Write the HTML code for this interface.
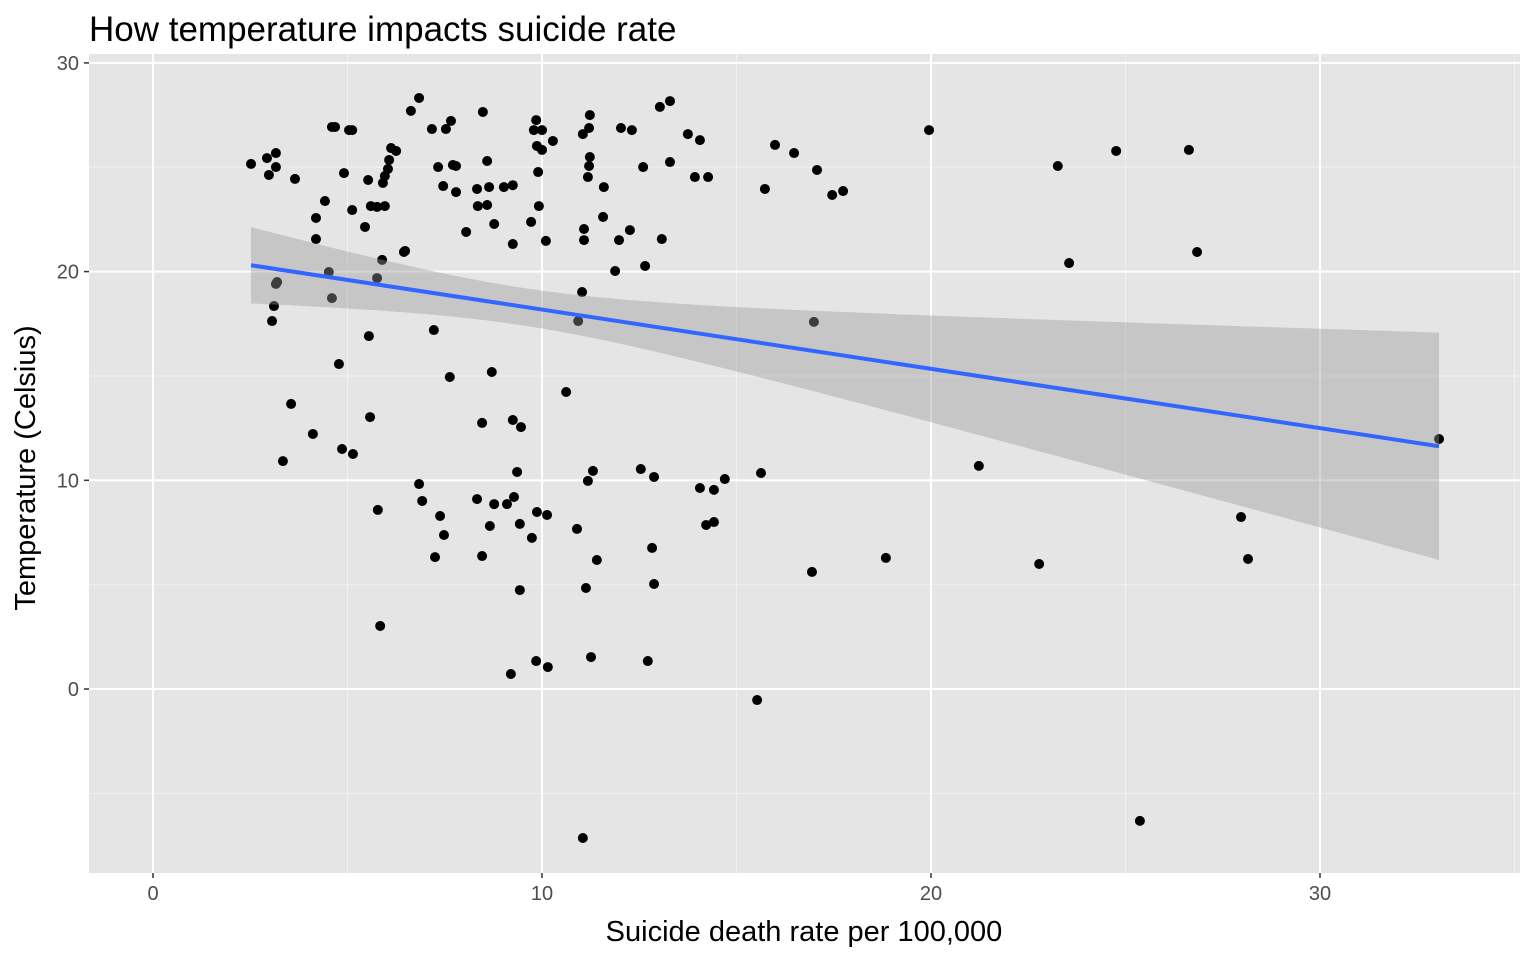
<!DOCTYPE html>
<html><head><meta charset="utf-8"><style>
body{margin:0;background:#fff;}
svg text{font-family:"Liberation Sans",Arial,sans-serif;}
</style></head><body>
<svg id="chart" width="1536" height="960" xmlns="http://www.w3.org/2000/svg">
<text x="89" y="41" font-size="35" fill="#000">How temperature impacts suicide rate</text>
<text x="804" y="941" font-size="29" text-anchor="middle" fill="#000">Suicide death rate per 100,000</text>
<text transform="translate(35,468) rotate(-90)" font-size="29" text-anchor="middle" fill="#000">Temperature (Celsius)</text>
</svg>
<script>
const xVals=[2.52,2.93,2.98,3.16,3.16,3.65,4.19,4.42,4.60,4.68,4.91,5.04,5.12,5.12,5.53,5.45,5.60,5.76,5.91,5.96,5.96,6.04,6.07,6.12,6.25,6.45,6.63,6.84,7.17,7.33,7.46,7.53,7.66,7.71,7.79,7.79,8.05,8.33,8.35,8.48,8.59,8.64,8.59,8.77,9.02,9.25,9.25,9.72,9.85,9.79,9.87,9.90,9.92,10.0,10.0,10.10,10.28,11.05,11.08,11.08,11.21,11.23,11.23,11.21,11.18,11.59,11.57,11.98,12.03,12.26,12.31,12.60,13.03,13.29,13.29,13.08,13.75,13.93,14.06,14.27,15.99,15.73,16.48,17.07,17.46,17.74,19.95,23.26,24.76,26.63,26.84,23.55,12.65,11.88,11.03,10.93,10.62,8.71,7.63,7.22,6.48,5.89,5.76,4.60,4.52,4.19,3.19,3.11,3.06,3.16,5.55,4.78,3.55,4.11,3.34,4.86,5.14,5.58,8.46,9.25,9.46,9.36,9.28,6.84,6.92,7.38,7.48,7.25,5.78,5.84,8.33,8.66,8.77,9.10,9.43,9.74,9.87,10.13,8.46,10.90,11.13,11.41,11.18,11.31,12.54,12.88,12.83,12.88,14.06,14.22,14.42,14.42,14.70,15.63,16.94,18.84,21.23,22.78,27.97,28.15,33.06,16.99,9.20,9.85,10.15,11.26,12.72,9.43,15.53,11.05,25.37];
const yVals=[25.16,25.44,24.63,25.68,25.01,24.44,22.57,23.38,26.93,26.93,24.72,26.78,26.78,22.95,24.39,22.14,23.14,23.10,24.25,24.58,23.14,24.92,25.35,25.92,25.78,20.94,27.70,28.32,26.83,25.01,24.10,26.83,27.22,25.11,25.06,23.81,21.90,23.96,23.14,27.65,25.30,24.05,23.19,22.28,24.05,24.14,21.32,22.38,27.26,26.78,26.02,24.77,23.14,26.78,25.83,21.47,26.26,26.59,22.04,21.51,26.88,27.50,25.49,25.06,24.53,24.05,22.62,21.51,26.88,21.99,26.78,25.01,27.89,28.17,25.25,21.56,26.59,24.53,26.30,24.53,26.07,23.96,25.68,24.87,23.67,23.86,26.78,25.06,25.78,25.83,20.94,20.41,20.27,20.03,19.02,17.63,14.23,15.19,14.95,17.20,20.99,20.56,19.69,18.73,19.98,21.56,19.50,18.35,17.63,19.41,16.91,15.57,13.66,12.22,10.92,11.50,11.26,13.03,12.75,12.89,12.55,10.40,9.20,9.82,9.01,8.29,7.38,6.32,8.58,3.02,9.10,7.81,8.86,8.86,7.91,7.24,8.48,8.34,6.37,7.67,4.84,6.18,9.97,10.45,10.54,10.16,6.76,5.03,9.63,7.86,8.00,9.54,10.06,10.35,5.61,6.28,10.69,5.99,8.24,6.23,11.98,17.59,0.72,1.34,1.05,1.53,1.34,4.74,-0.53,-7.14,-6.32];
const xTicks=[0,10,20,30];
const yTicks=[0,10,20,30];
const xMinor=[5,15,25,35];
const yMinor=[-5,5,15,25];
const fitX=[2.52,33.06];
const fitCoef=[21.02,-0.284];
const seCoef=[0.81,0.052,9.5];

const svg=document.getElementById('chart');
const NS='http://www.w3.org/2000/svg';
const PL=89,PR=1520,PT=54,PB=873;
const X=v=>153+v*38.9;
const Y=v=>689-v*20.87;
function mk(t,a){const e=document.createElementNS(NS,t);for(const k in a)e.setAttribute(k,a[k]);svg.appendChild(e);return e;}
const bg=mk('rect',{x:PL,y:PT,width:PR-PL,height:PB-PT,fill:'#e5e5e5'});


xMinor.forEach(v=>{const l=mk('line',{x1:X(v),x2:X(v),y1:PT,y2:PB,stroke:'#f2f2f2','stroke-width':1});

});
yMinor.forEach(v=>{const l=mk('line',{x1:PL,x2:PR,y1:Y(v),y2:Y(v),stroke:'#f2f2f2','stroke-width':1});

});
xTicks.forEach(v=>{const l=mk('line',{x1:X(v),x2:X(v),y1:PT,y2:PB,stroke:'#fff','stroke-width':2});


const tk=mk('line',{x1:X(v),x2:X(v),y1:PB,y2:PB+5,stroke:'#333','stroke-width':1.5});


const t=mk('text',{x:X(v),y:PB+27,'font-size':20,fill:'#4d4d4d','text-anchor':'middle'});t.textContent=v;

});
yTicks.forEach(v=>{const l=mk('line',{x1:PL,x2:PR,y1:Y(v),y2:Y(v),stroke:'#fff','stroke-width':2});


const tk=mk('line',{x1:PL-5,x2:PL,y1:Y(v),y2:Y(v),stroke:'#333','stroke-width':1.5});


const t=mk('text',{x:PL-10,y:Y(v)+7,'font-size':20,fill:'#4d4d4d','text-anchor':'end'});t.textContent=v;

});
xVals.forEach((v,i)=>{const c=mk('circle',{cx:X(v),cy:Y(yVals[i]),r:5,fill:'#000'});

});
const fy=x=>fitCoef[0]+fitCoef[1]*x;
const hw=x=>Math.sqrt(seCoef[0]+seCoef[1]*(x-seCoef[2])**2);
let up=[],lo=[];const N=60;
for(let i=0;i<=N;i++){const x=fitX[0]+(fitX[1]-fitX[0])*i/N;up.push(X(x)+','+Y(fy(x)+hw(x)));lo.unshift(X(x)+','+Y(fy(x)-hw(x)));}
const band=mk('polygon',{points:up.concat(lo).join(' '),fill:'#999','fill-opacity':0.4});


const ln=mk('line',{x1:X(fitX[0]),y1:Y(fy(fitX[0])),x2:X(fitX[1]),y2:Y(fy(fitX[1])),stroke:'#3366ff','stroke-width':4});


</script>
</body></html>
